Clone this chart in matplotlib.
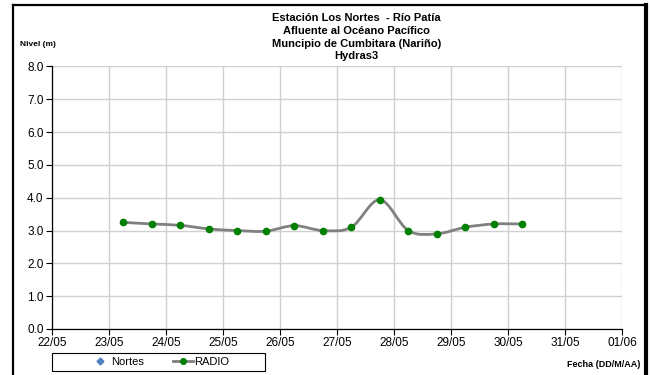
import numpy as np
import pandas as pd
import matplotlib
matplotlib.use('Agg')
import matplotlib.pyplot as plt
import matplotlib.dates as mdates
from matplotlib.path import Path
from matplotlib.patches import PathPatch, Rectangle
from matplotlib.lines import Line2D

plt.rcParams['font.family'] = ['Liberation Sans', 'DejaVu Sans']

# datos
fechas = ['2013-05-23 06:00', '2013-05-23 18:00', '2013-05-24 06:00', '2013-05-24 18:00',
          '2013-05-25 06:00', '2013-05-25 18:00', '2013-05-26 06:00', '2013-05-26 18:00',
          '2013-05-27 06:00', '2013-05-27 18:00', '2013-05-28 06:00', '2013-05-28 18:00',
          '2013-05-29 06:00', '2013-05-29 18:00', '2013-05-30 06:00']
radio = [3.25, 3.20, 3.16, 3.05, 3.00, 2.98, 3.15, 3.00, 3.10, 3.94, 3.00, 2.90, 3.10, 3.20, 3.20]
nortes = []
x_ticks = ['2013-05-22', '2013-05-23', '2013-05-24', '2013-05-25', '2013-05-26', '2013-05-27',
           '2013-05-28', '2013-05-29', '2013-05-30', '2013-05-31', '2013-06-01']
y_ticks = [0, 1, 2, 3, 4, 5, 6, 7, 8]

titulo = 'Estación Los Nortes  - Río Patía\nAfluente al Océano Pacífico\nMuncipio de Cumbitara (Nariño)\nHydras3'

x = mdates.date2num(pd.to_datetime(fechas).to_pydatetime())
y = np.array(radio)
xt = mdates.date2num(pd.to_datetime(x_ticks).to_pydatetime())

fig = plt.figure(figsize=(6.5, 3.75), dpi=100)
ax = fig.add_axes([0.08, 0.1227, 0.877, 0.7]) 

# linea suavizada tipo excel (bezier)
pts = np.column_stack([x, y])
verts = [pts[0]]
codes = [Path.MOVETO]
n = len(pts)
for i in range(n - 1):
    p0 = pts[max(i - 1, 0)]
    p1 = pts[i]
    p2 = pts[i + 1]
    p3 = pts[min(i + 2, n - 1)]
    verts += [p1 + (p2 - p0) / 6.0, p2 - (p3 - p1) / 6.0, p2]
    codes += [Path.CURVE4] * 3
ax.add_patch(PathPatch(Path(verts, codes), facecolor='none', edgecolor='#808080', lw=2, zorder=3))
ax.plot(x, y, 'o', color='#008000', markersize=4.5, zorder=4)
ax.plot(nortes, nortes, 'D', color='#4F81BD', markersize=4)

ax.set_xlim(xt[0], xt[-1])
ax.set_ylim(0, 8)
ax.set_xticks(xt)
ax.xaxis.set_major_formatter(mdates.DateFormatter('%d/%m'))
ax.set_yticks(y_ticks)
ax.set_yticklabels(['%.1f' % v for v in y_ticks])
ax.tick_params(labelsize=8.5, length=4, width=0.8, color='black', pad=2)
ax.grid(True, color='#d0d0d0', lw=1)
ax.set_axisbelow(True)
for s in ['top', 'right']:
    ax.spines[s].set_visible(False)
for s in ['left', 'bottom']:
    ax.spines[s].set_linewidth(0.9)

fig.text(0.548, 0.901, titulo, ha='center', va='center', fontsize=8, fontweight='bold', linespacing=1.35)
fig.text(0.058, 0.88, 'Nivel (m)', ha='center', va='center', fontsize=6, fontweight='bold')
fig.text(0.928, 0.027, 'Fecha (DD/M/AA)', ha='center', va='center', fontsize=6.5, fontweight='bold')

# leyenda
fig.add_artist(Rectangle((0.08, 0.011), 0.328, 0.048, transform=fig.transFigure,
                         facecolor='white', edgecolor='black', lw=0.8))
h1 = Line2D([], [], marker='D', color='#4F81BD', linestyle='none', markersize=3.5)
h2 = Line2D([], [], marker='o', color='#808080', markerfacecolor='#008000', markeredgecolor='#008000',
            lw=2, markersize=4)
leg = fig.legend([h1, h2], ['Nortes', 'RADIO'], loc='center', bbox_to_anchor=(0.245, 0.035),
                 ncol=2, fontsize=8, frameon=False, borderpad=0, handlelength=1.8,
                 handletextpad=0.1, columnspacing=2.6, borderaxespad=0)

# marco exterior
fig.add_artist(Line2D([0.02, 0.02], [0, 0.987], color='black', lw=1.6, transform=fig.transFigure))
fig.add_artist(Line2D([0.02, 0.994], [0.987, 0.987], color='black', lw=1.6, transform=fig.transFigure))
fig.add_artist(Line2D([0.994, 0.994], [0, 0.987], color='black', lw=3, transform=fig.transFigure))

fig.savefig('out.png', dpi=100)
